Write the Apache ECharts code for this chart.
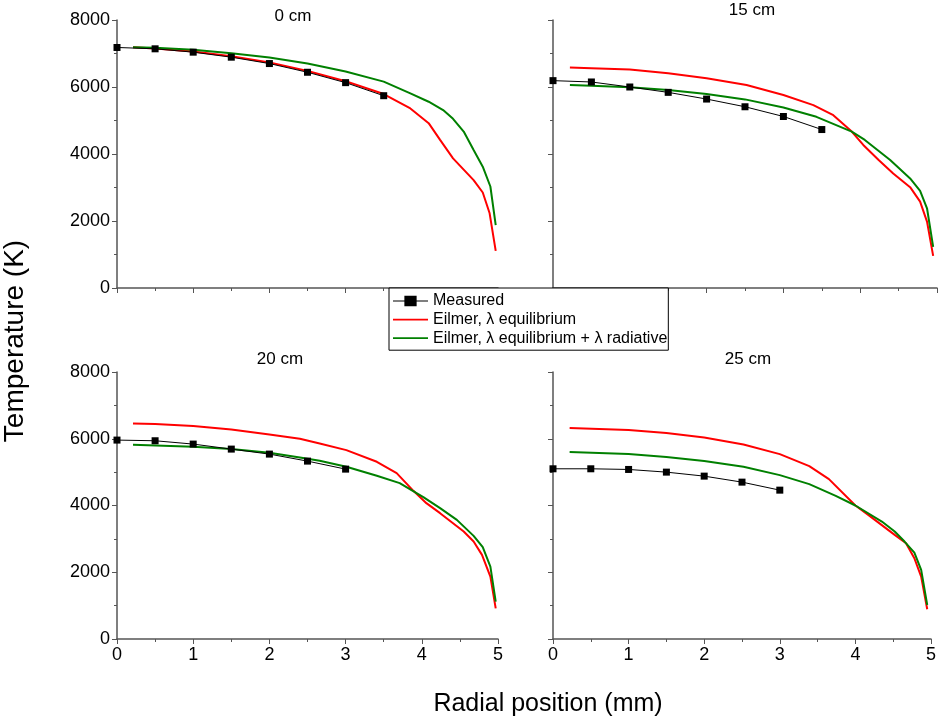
<!DOCTYPE html>
<html><head><meta charset="utf-8">
<script src="https://cdn.jsdelivr.net/npm/echarts@6/dist/echarts.min.js"></script>
<style>html,body{margin:0;padding:0;background:#fff}#c{width:939px;height:720px}</style>
</head><body><div id="c"></div>
<script>
// Panel titles
const panelTitles = ['0 cm', '15 cm', '20 cm', '25 cm'];
const seriesNames = ['Measured', 'Eilmer, \u03bb equilibrium', 'Eilmer, \u03bb equilibrium + \u03bb radiative'];

// Measured
const measX8 = [0, 0.5, 1, 1.5, 2, 2.5, 3, 3.5];
const measX7 = [0, 0.5, 1, 1.5, 2, 2.5, 3];
const meas0 = [7180, 7140, 7040, 6890, 6700, 6440, 6130, 5740];
const meas15 = [6190, 6150, 6000, 5840, 5640, 5410, 5120, 4730];
const meas20 = [5960, 5940, 5840, 5690, 5540, 5330, 5090];
const meas25 = [5100, 5100, 5080, 5000, 4880, 4700, 4460];

// Eilmer, lambda equilibrium (red)
const redX0 = [0.21, 0.5, 1.0, 1.5, 2.0, 2.5, 3.0, 3.5, 3.85, 4.09, 4.24, 4.41, 4.68, 4.80, 4.89, 4.97];
const red0 = [7190, 7150, 7060, 6920, 6730, 6480, 6170, 5790, 5360, 4920, 4420, 3870, 3220, 2850, 2230, 1110];
const redX15 = [0.22, 0.5, 1.0, 1.5, 2.0, 2.52, 3.0, 3.39, 3.65, 3.89, 4.04, 4.24, 4.43, 4.65, 4.78, 4.87, 4.95];
const red15 = [6580, 6560, 6520, 6410, 6260, 6060, 5760, 5460, 5160, 4670, 4270, 3820, 3420, 3010, 2580, 1980, 960];
const redX20 = [0.21, 0.5, 1.0, 1.5, 2.0, 2.4, 2.66, 3.01, 3.41, 3.67, 3.89, 4.06, 4.24, 4.55, 4.68, 4.79, 4.90, 4.97];
const red20 = [6460, 6440, 6380, 6280, 6130, 6000, 5860, 5660, 5310, 4970, 4440, 4070, 3770, 3220, 2920, 2520, 1870, 920];
const redX25 = [0.22, 1.0, 1.5, 2.0, 2.52, 3.0, 3.39, 3.65, 4.0, 4.17, 4.52, 4.67, 4.78, 4.87, 4.95];
const red25 = [6320, 6260, 6170, 6040, 5830, 5540, 5180, 4790, 4000, 3720, 3120, 2870, 2420, 1870, 890];

// Eilmer, lambda equilibrium + lambda radiative (green)
const grnX0 = [0.21, 0.5, 1.0, 1.5, 2.0, 2.5, 3.0, 3.5, 3.85, 4.09, 4.28, 4.41, 4.55, 4.68, 4.80, 4.90, 4.97];
const grn0 = [7190, 7170, 7110, 7010, 6880, 6700, 6460, 6160, 5810, 5560, 5310, 5050, 4670, 4120, 3620, 3030, 1880];
const grnX15 = [0.22, 0.5, 1.0, 1.5, 2.0, 2.5, 3.0, 3.43, 3.89, 4.06, 4.39, 4.65, 4.78, 4.87, 4.95];
const grn15 = [6060, 6040, 5990, 5910, 5790, 5630, 5390, 5110, 4670, 4420, 3820, 3270, 2900, 2380, 1230];
const grnX20 = [0.21, 1.0, 1.5, 2.0, 2.4, 2.66, 3.01, 3.41, 3.71, 4.02, 4.24, 4.46, 4.68, 4.80, 4.90, 4.97];
const grn20 = [5820, 5760, 5690, 5580, 5440, 5340, 5160, 4890, 4670, 4250, 3920, 3570, 3090, 2750, 2170, 1120];
const grnX25 = [0.22, 1.0, 1.5, 2.0, 2.52, 3.0, 3.39, 3.74, 4.0, 4.35, 4.52, 4.65, 4.78, 4.87, 4.95];
const grn25 = [5600, 5540, 5450, 5330, 5160, 4910, 4640, 4290, 4000, 3520, 3220, 2920, 2590, 2070, 1020];

// Axis ticks
const xMin = 0, xMax = 5, xStep = 1;
const yMin = 0, yMax = 8000, yStep = 2000;

const zip = (xs, ys) => xs.map((x, i) => [x, ys[i]]);
const panels = [
  { m: zip(measX8, meas0), r: zip(redX0, red0), g: zip(grnX0, grn0) },
  { m: zip(measX8, meas15), r: zip(redX15, red15), g: zip(grnX15, grn15) },
  { m: zip(measX7, meas20), r: zip(redX20, red20), g: zip(grnX20, grn20) },
  { m: zip(measX7, meas25), r: zip(redX25, red25), g: zip(grnX25, grn25) }
];

const FONT = 'Liberation Sans, Arial, sans-serif';
const AX = '#555';
const grids = [
  { left: 117, top: 20, width: 381, height: 268 },
  { left: 553, top: 20, width: 384, height: 268 },
  { left: 117, top: 372, width: 381, height: 267 },
  { left: 553, top: 372, width: 384, height: 267 }
];
const xAxes = grids.map((g, i) => ({
  type: 'value', gridIndex: i, min: xMin, max: xMax, interval: xStep,
  axisLine: { show: true, onZero: false, lineStyle: { color: AX, width: 1.5 } },
  axisTick: { show: true, inside: false, length: 5, lineStyle: { color: AX, width: 1 } },
  minorTick: { show: true, splitNumber: 2, length: 3, lineStyle: { color: AX } },
  splitLine: { show: false },
  axisLabel: { show: i >= 2, color: '#000', fontSize: 18, fontFamily: FONT, margin: 7, formatter: v => String(v) }
}));
const yAxes = grids.map((g, i) => ({
  type: 'value', gridIndex: i, min: yMin, max: yMax, interval: yStep,
  axisLine: { show: true, onZero: false, lineStyle: { color: AX, width: 1.5 } },
  axisTick: { show: true, inside: false, length: 5, lineStyle: { color: AX, width: 1 } },
  minorTick: { show: true, splitNumber: 2, length: 3, lineStyle: { color: AX } },
  splitLine: { show: false },
  axisLabel: { show: i % 2 === 0, color: '#000', fontSize: 18, fontFamily: FONT, margin: 7, formatter: v => String(v) }
}));

const series = [];
panels.forEach((p, i) => {
  series.push({
    name: seriesNames[1], type: 'line', xAxisIndex: i, yAxisIndex: i, data: p.r,
    showSymbol: false, symbol: 'none', lineStyle: { color: '#ff0000', width: 2 }, itemStyle: { color: '#ff0000' }, z: 3, animation: false
  });
  series.push({
    name: seriesNames[2], type: 'line', xAxisIndex: i, yAxisIndex: i, data: p.g,
    showSymbol: false, symbol: 'none', lineStyle: { color: '#008000', width: 2 }, itemStyle: { color: '#008000' }, z: 3, animation: false
  });
  series.push({
    name: seriesNames[0], type: 'line', xAxisIndex: i, yAxisIndex: i, data: p.m,
    symbol: 'rect', symbolSize: 7, lineStyle: { color: '#000', width: 1 }, itemStyle: { color: '#000' }, z: 5, animation: false
  });
});

const titlePos = [[293, 16], [752, 10], [280, 359], [748, 359]];
const graphic = panelTitles.map((t, i) => ({
  type: 'text', x: titlePos[i][0], y: titlePos[i][1],
  style: { text: t, fontSize: 17, fontFamily: FONT, fill: '#000', textAlign: 'center', textVerticalAlign: 'middle' }
}));
graphic.push({
  type: 'text', x: 548, y: 704,
  style: { text: 'Radial position (mm)', fontSize: 25, fontFamily: FONT, fill: '#000', textAlign: 'center', textVerticalAlign: 'middle' }
});
graphic.push({
  type: 'text', x: 15, y: 341, rotation: Math.PI / 2,
  style: { text: 'Temperature (K)', fontSize: 28, fontFamily: FONT, fill: '#000', textAlign: 'center', textVerticalAlign: 'middle' }
});

const lineIcon = 'path://M0,0 L0.05,0 L0.05,0.05 Z M0,5 L40,5 L40,7 L0,7 Z M0,12 L0.05,12 L0.05,11.95 Z';
const measIcon = 'path://M0,5.5 L13,5.5 L13,0 L27,0 L27,5.5 L40,5.5 L40,6.5 L27,6.5 L27,12 L13,12 L13,6.5 L0,6.5 Z';

const chart = echarts.init(document.getElementById('c'), null, { renderer: 'canvas' });
chart.setOption({
  animation: false,
  backgroundColor: '#fff',
  grid: grids,
  xAxis: xAxes,
  yAxis: yAxes,
  series: series,
  graphic: graphic,
  legend: {
    data: [
      { name: seriesNames[0], icon: measIcon, itemStyle: { color: '#000' } },
      { name: seriesNames[1], icon: lineIcon, itemStyle: { color: '#ff0000' } },
      { name: seriesNames[2], icon: lineIcon, itemStyle: { color: '#008000' } }
    ],
    orient: 'vertical', left: 389, top: 288,
    itemWidth: 35, itemHeight: 12, itemGap: 0.6,
    padding: [4, 1, 3, 4],
    backgroundColor: '#fff', borderColor: '#000', borderWidth: 1,
    textStyle: { fontSize: 16, fontFamily: FONT, color: '#000', lineHeight: 18 },
    selectedMode: false, z: 10
  }
});
</script>
</body></html>
